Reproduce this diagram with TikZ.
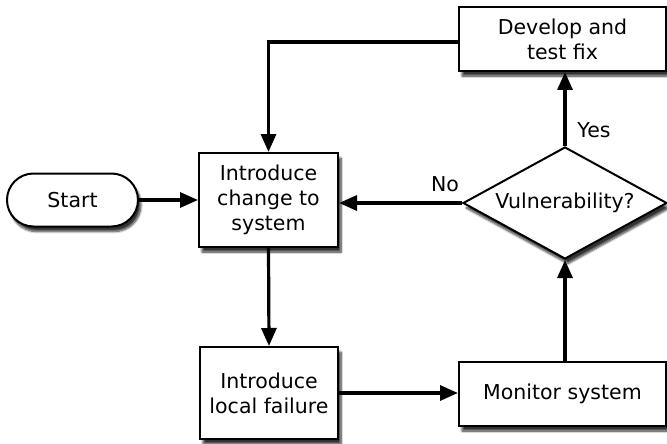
\documentclass[tikz,border=0pt]{standalone}
\usepackage{fontspec}
\setmainfont{DejaVu Sans}
\usetikzlibrary{arrows.meta,shapes.geometric,shadows.blur}
\begin{document}
\begin{tikzpicture}[x=1pt,y=-1pt,
  txt/.style={font=\fontsize{20.5}{25}\selectfont,align=center,inner sep=0pt},
  base/.style={draw=black,line width=2pt,fill=white,txt,
    blur shadow={shadow xshift=3pt,shadow yshift=-5pt,shadow blur steps=8,shadow opacity=80}},
  procbox/.style={base,rectangle},
  flow/.style={line width=3.2pt,-{Triangle[length=18pt,width=15pt]}}]
\useasboundingbox (0,0) rectangle (667,444);

\node[procbox,minimum width=131pt,minimum height=53pt,rounded corners=26.5pt] (start) at (72.5,200) {Start};
\node[procbox,minimum width=139pt,minimum height=94pt] (change) at (268.5,200) {Introduce\\change to\\system};
\node[procbox,minimum width=138pt,minimum height=92pt] (fail) at (269,393) {Introduce\\local failure};
\node[procbox,minimum width=207pt,minimum height=64pt] (monitor) at (562.5,394) {Monitor system};
\node[procbox,minimum width=207pt,minimum height=64pt] (fix) at (562.5,39) {Develop and\\test fix};
\node[base,diamond,minimum width=204pt,minimum height=112pt,inner sep=0pt] (vuln) at (565,203) {};
\node[txt] (vulntext) at (vuln.center) {Vulnerability?};

\draw[flow] (start.east) -- (change.west);
\draw[flow] (change.south) -- (fail.north);
\draw[flow] (fail.east) -- (fail.east -| monitor.west);
\draw[flow] (monitor.north -| vuln.south) -- (vuln.south);
\draw[flow] (vuln.west) -- (vuln.west -| change.east);
\draw[flow] (vuln.north) -- (vuln.north |- fix.south);
\coordinate (corner) at (change.north |- 0,42);
\draw[flow] (fix.west |- corner) -- (corner) -- (change.north);

\node[txt] (nolbl) at (445,184) {No};
\node[txt] (yeslbl) at (594,130) {Yes};
\end{tikzpicture}
\end{document}
